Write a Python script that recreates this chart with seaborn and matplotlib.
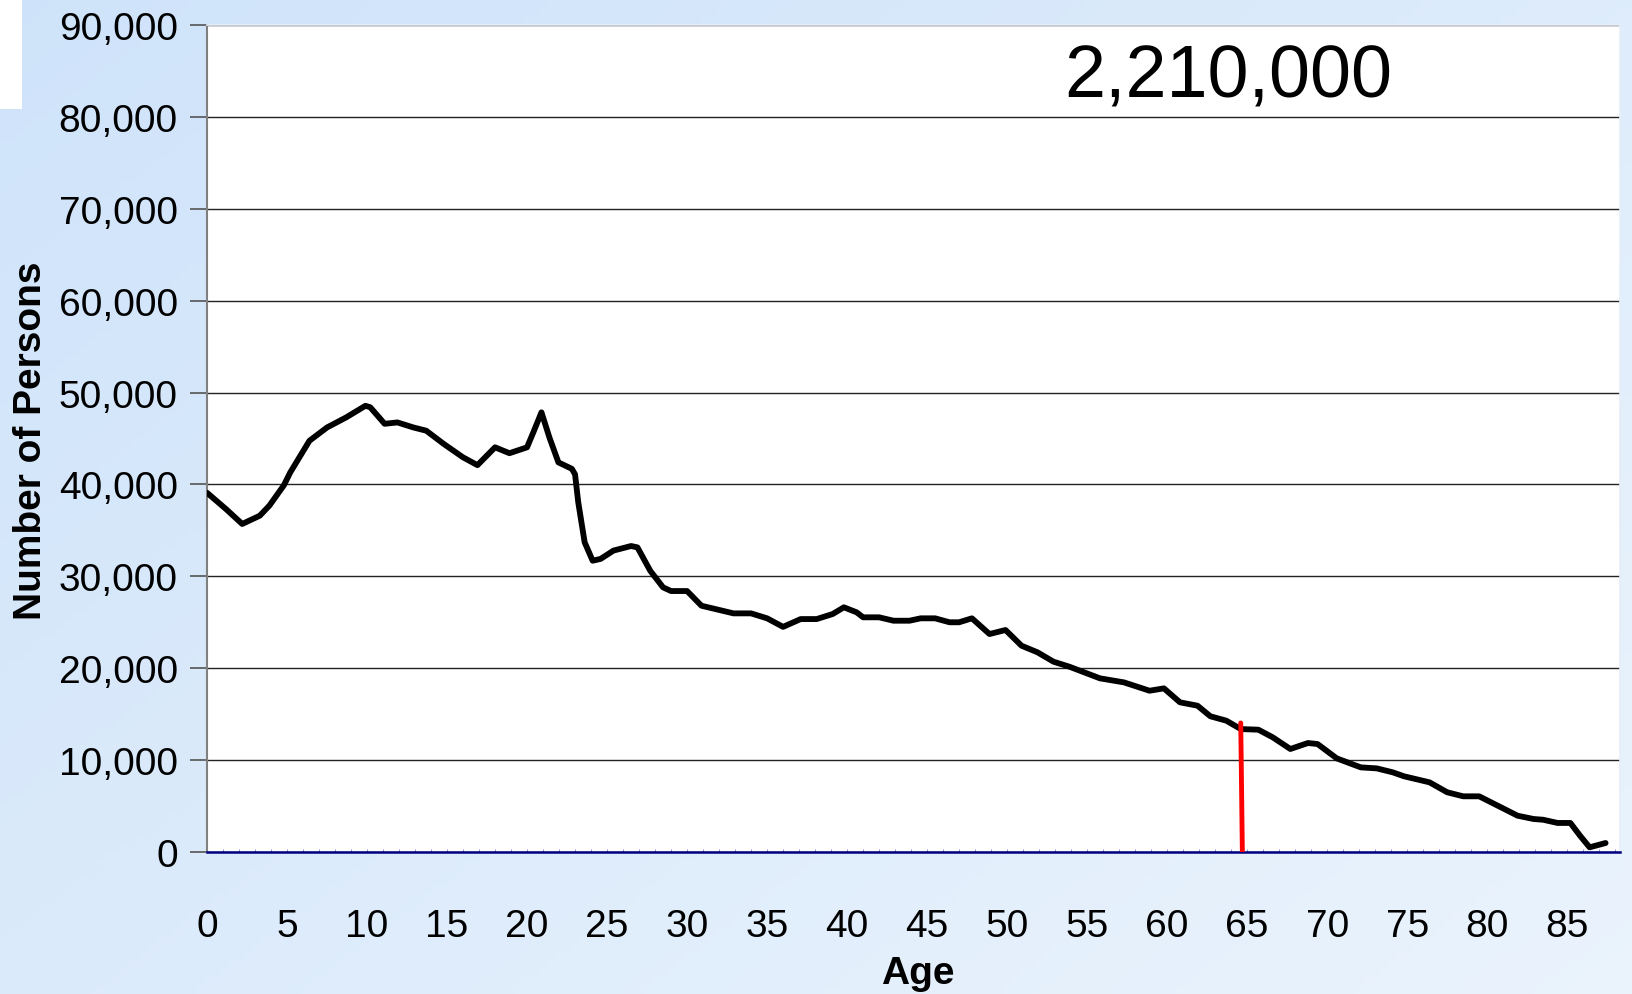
import numpy as np
import pandas as pd
import matplotlib
matplotlib.use("Agg")
import matplotlib.pyplot as plt
import seaborn as sns
from matplotlib.ticker import FuncFormatter, MultipleLocator

# ages (years) and number of persons
ages = [0.0, 1.2, 2.2, 3.3, 3.9, 4.8, 5.2, 6.4, 7.5, 8.7, 9.9, 10.2, 11.1, 11.9,
        12.9, 13.7, 14.8, 16.0, 16.9, 18.0, 18.9, 20.0, 20.4, 20.9, 21.4, 21.96,
        22.8, 23.0, 23.2, 23.6, 24.1, 24.6, 25.4, 26.5, 26.9, 27.7, 28.5, 29.0,
        30.0, 30.9, 32.9, 34.0, 35.0, 36.0, 37.1, 38.1, 39.1, 39.8, 40.6, 41.0,
        42.0, 42.9, 43.9, 44.6, 45.5, 46.4, 47.0, 47.8, 48.9, 49.9, 50.9, 51.9,
        52.9, 53.9, 55.8, 57.3, 58.9, 59.8, 60.8, 61.9, 62.7, 63.7, 64.6, 65.7,
        66.6, 67.7, 68.8, 69.4, 70.6, 72.1, 73.1, 74.1, 74.8, 76.4, 77.5, 78.5,
        79.5, 81.9, 82.9, 83.5, 84.4, 85.2, 85.8, 86.4, 87.4]
persons = [39100, 37300, 35700, 36600, 37700, 39900, 41300, 44750, 46200, 47300,
           48560, 48400, 46600, 46750, 46200, 45850, 44400, 42950, 42100, 44040,
           43400, 44040, 45700, 47850, 45100, 42400, 41700, 41100, 38050, 33700,
           31700, 31900, 32800, 33300, 33150, 30600, 28800, 28400, 28400, 26800,
           25970, 25970, 25430, 24500, 25350, 25350, 25900, 26630, 26080, 25540,
           25540, 25170, 25170, 25430, 25430, 25000, 25000, 25430, 23720, 24160,
           22450, 21730, 20710, 20160, 18900, 18460, 17550, 17810, 16290, 15920,
           14770, 14290, 13380, 13310, 12480, 11210, 11860, 11750, 10190, 9210,
           9100, 8670, 8240, 7580, 6500, 6060, 6060, 3950, 3590, 3510, 3160,
           3160, 1780, 510, 980]

# retirement age marker
marker_age = [64.7, 64.6]
marker_val = [0, 14040]
total_label = "2,210,000"

df = pd.DataFrame({"Age": ages, "Persons": persons})
mk = pd.DataFrame({"Age": marker_age, "Persons": marker_val})

sns.set_style("white")
plt.rcParams['font.family'] = ['Liberation Sans', 'DejaVu Sans']
plt.rcParams['text.color'] = 'black'
plt.rcParams['axes.labelcolor'] = 'black'
plt.rcParams['xtick.color'] = 'black'
plt.rcParams['ytick.color'] = 'black'

fig = plt.figure(figsize=(16.32, 9.95), dpi=100)

# slide-like light blue background
bg = fig.add_axes([0, 0, 1, 1], zorder=0)
gx, gy = np.meshgrid(np.linspace(0, 1, 200), np.linspace(0, 1, 120))
t = np.clip(0.55 * gx + 0.45 * gy, 0, 1)
c0 = np.array([0.81, 0.89, 0.98])
c1 = np.array([0.92, 0.955, 0.99])
img = c0 * (1 - t[..., None]) + c1 * t[..., None]
bg.imshow(img, aspect="auto", extent=[0, 1, 0, 1], origin="upper")
bg.add_patch(plt.Rectangle((0, 1 - 110 / 995), 22 / 1632, 110 / 995, color="white", lw=0))
bg.set_xlim(0, 1)
bg.set_ylim(0, 1)
bg.axis("off")

ax = fig.add_axes([207 / 1632, 142 / 995, 1413 / 1632, 827 / 995], zorder=1)
ax.set_facecolor("white")

sns.lineplot(data=df, x="Age", y="Persons", color="black", linewidth=4.2,
             estimator=None, sort=False, ax=ax, zorder=3,
             solid_joinstyle="round", solid_capstyle="round")
sns.lineplot(data=mk, x="Age", y="Persons", color="#ff0000", linewidth=3.5,
             estimator=None, sort=False, ax=ax, zorder=4)

ax.set_xlim(0, 88.3)
ax.set_ylim(0, 90000)
ax.yaxis.set_major_locator(MultipleLocator(10000))
ax.yaxis.set_major_formatter(FuncFormatter(lambda v, p: f"{int(v):,}"))
ax.xaxis.set_major_locator(MultipleLocator(5))
ax.xaxis.set_minor_locator(MultipleLocator(1))

ax.grid(axis="y", color="#222222", linewidth=1.0)
ax.get_ygridlines()[-1].set_visible(False)
ax.set_axisbelow(True)

ax.tick_params(axis="y", which="major", direction="out", length=12, width=1.2,
               color="#555555", pad=9, labelsize=28, left=True)
ax.tick_params(axis="x", which="major", direction="in", length=2, width=0.5,
               color="#6b6bb0", pad=40, labelsize=28, bottom=True)
ax.tick_params(axis="x", which="minor", direction="in", length=2, width=0.5,
               color="#6b6bb0", bottom=True)

for s in ["top", "right"]:
    ax.spines[s].set_color("#e6eef8")
    ax.spines[s].set_linewidth(1.2)
ax.spines["left"].set_color("#808080")
ax.spines["left"].set_linewidth(1.5)
ax.spines["bottom"].set_color("#000080")
ax.spines["bottom"].set_linewidth(1.8)

ax.set_xlabel("Age", fontsize=28, fontweight="bold")
ax.xaxis.set_label_coords(0.503, -0.125)
ax.set_ylabel("Number of Persons", fontsize=28, fontweight="bold")
ax.yaxis.set_label_coords(-0.112, 0.498)

ax.text(0.7226, 0.937, total_label, transform=ax.transAxes, ha="center",
        va="center", fontsize=53)

fig.savefig("out.png", dpi=100)
